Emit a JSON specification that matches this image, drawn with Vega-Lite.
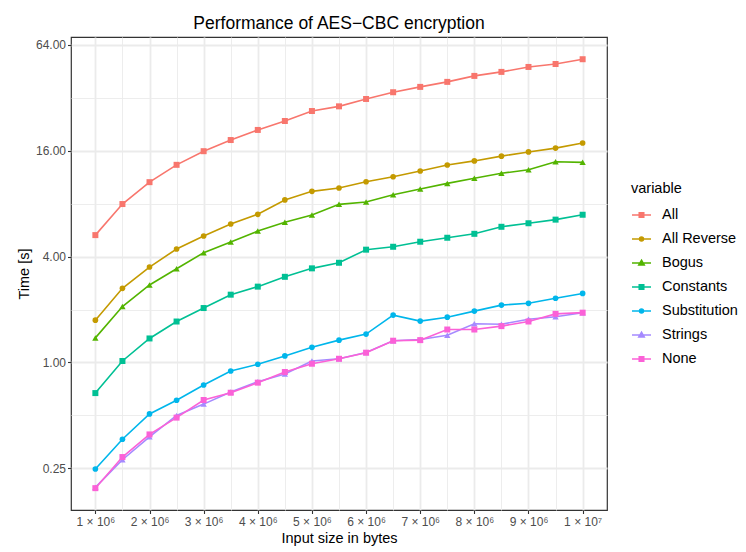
{
  "$schema": "https://vega.github.io/schema/vega-lite/v6.json",
  "width": 536,
  "height": 473,
  "autosize": {"type": "none"},
  "padding": {"left": 71, "top": 37, "right": 139, "bottom": 42},
  "background": "white",
  "title": {"text": "Performance of AES−CBC encryption", "anchor": "middle", "frame": "group", "font": "Liberation Sans", "fontSize": 17.5, "fontWeight": "normal", "color": "black", "baseline": "alphabetic", "offset": -9},
  "config": {
    "view": {"stroke": "#333333", "strokeWidth": 1.2},
    "axis": {"labelFont": "Liberation Sans", "titleFont": "Liberation Sans", "labelFontSize": 12, "labelColor": "#4D4D4D", "titleFontSize": 14.5, "titleFontWeight": "normal", "titleColor": "black", "tickColor": "#333333", "tickSize": 3.5, "tickWidth": 1.1, "domain": false, "gridColor": "#EBEBEB", "labelOverlap": false, "labelFlush": false},
    "legend": {"titleFont": "Liberation Sans", "titleFontSize": 14.5, "titleFontWeight": "normal", "titleColor": "black", "labelFont": "Liberation Sans", "labelFontSize": 14.5, "labelColor": "black", "symbolSize": 361, "rowPadding": 7, "labelOffset": 10, "titlePadding": 8}
  },
  "data": {"values": [
    {"x":1000000,"variable":"All","time":5.3},{"x":1500000,"variable":"All","time":7.96},{"x":2000000,"variable":"All","time":10.6},{"x":2500000,"variable":"All","time":13.3},{"x":3000000,"variable":"All","time":15.9},{"x":3500000,"variable":"All","time":18.4},{"x":4000000,"variable":"All","time":21.0},{"x":4500000,"variable":"All","time":23.6},{"x":5000000,"variable":"All","time":26.9},{"x":5500000,"variable":"All","time":28.6},{"x":6000000,"variable":"All","time":31.5},{"x":6500000,"variable":"All","time":34.4},{"x":7000000,"variable":"All","time":36.9},{"x":7500000,"variable":"All","time":39.4},{"x":8000000,"variable":"All","time":42.6},{"x":8500000,"variable":"All","time":44.9},{"x":9000000,"variable":"All","time":47.9},{"x":9500000,"variable":"All","time":49.8},{"x":10000000,"variable":"All","time":53.0},
    {"x":1000000,"variable":"All Reverse","time":1.74},{"x":1500000,"variable":"All Reverse","time":2.64},{"x":2000000,"variable":"All Reverse","time":3.49},{"x":2500000,"variable":"All Reverse","time":4.42},{"x":3000000,"variable":"All Reverse","time":5.24},{"x":3500000,"variable":"All Reverse","time":6.13},{"x":4000000,"variable":"All Reverse","time":6.96},{"x":4500000,"variable":"All Reverse","time":8.4},{"x":5000000,"variable":"All Reverse","time":9.4},{"x":5500000,"variable":"All Reverse","time":9.82},{"x":6000000,"variable":"All Reverse","time":10.66},{"x":6500000,"variable":"All Reverse","time":11.38},{"x":7000000,"variable":"All Reverse","time":12.27},{"x":7500000,"variable":"All Reverse","time":13.27},{"x":8000000,"variable":"All Reverse","time":14.0},{"x":8500000,"variable":"All Reverse","time":14.9},{"x":9000000,"variable":"All Reverse","time":15.75},{"x":9500000,"variable":"All Reverse","time":16.56},{"x":10000000,"variable":"All Reverse","time":17.7},
    {"x":1000000,"variable":"Bogus","time":1.38},{"x":1500000,"variable":"Bogus","time":2.08},{"x":2000000,"variable":"Bogus","time":2.76},{"x":2500000,"variable":"Bogus","time":3.41},{"x":3000000,"variable":"Bogus","time":4.21},{"x":3500000,"variable":"Bogus","time":4.84},{"x":4000000,"variable":"Bogus","time":5.59},{"x":4500000,"variable":"Bogus","time":6.27},{"x":5000000,"variable":"Bogus","time":6.9},{"x":5500000,"variable":"Bogus","time":7.93},{"x":6000000,"variable":"Bogus","time":8.17},{"x":6500000,"variable":"Bogus","time":9.0},{"x":7000000,"variable":"Bogus","time":9.7},{"x":7500000,"variable":"Bogus","time":10.43},{"x":8000000,"variable":"Bogus","time":11.15},{"x":8500000,"variable":"Bogus","time":11.9},{"x":9000000,"variable":"Bogus","time":12.48},{"x":9500000,"variable":"Bogus","time":13.85},{"x":10000000,"variable":"Bogus","time":13.74},
    {"x":1000000,"variable":"Constants","time":0.67},{"x":1500000,"variable":"Constants","time":1.02},{"x":2000000,"variable":"Constants","time":1.37},{"x":2500000,"variable":"Constants","time":1.71},{"x":3000000,"variable":"Constants","time":2.04},{"x":3500000,"variable":"Constants","time":2.43},{"x":4000000,"variable":"Constants","time":2.7},{"x":4500000,"variable":"Constants","time":3.07},{"x":5000000,"variable":"Constants","time":3.43},{"x":5500000,"variable":"Constants","time":3.69},{"x":6000000,"variable":"Constants","time":4.38},{"x":6500000,"variable":"Constants","time":4.55},{"x":7000000,"variable":"Constants","time":4.86},{"x":7500000,"variable":"Constants","time":5.12},{"x":8000000,"variable":"Constants","time":5.39},{"x":8500000,"variable":"Constants","time":5.91},{"x":9000000,"variable":"Constants","time":6.19},{"x":9500000,"variable":"Constants","time":6.49},{"x":10000000,"variable":"Constants","time":6.92},
    {"x":1000000,"variable":"Substitution","time":0.248},{"x":1500000,"variable":"Substitution","time":0.366},{"x":2000000,"variable":"Substitution","time":0.51},{"x":2500000,"variable":"Substitution","time":0.61},{"x":3000000,"variable":"Substitution","time":0.745},{"x":3500000,"variable":"Substitution","time":0.895},{"x":4000000,"variable":"Substitution","time":0.977},{"x":4500000,"variable":"Substitution","time":1.09},{"x":5000000,"variable":"Substitution","time":1.22},{"x":5500000,"variable":"Substitution","time":1.34},{"x":6000000,"variable":"Substitution","time":1.45},{"x":6500000,"variable":"Substitution","time":1.86},{"x":7000000,"variable":"Substitution","time":1.72},{"x":7500000,"variable":"Substitution","time":1.81},{"x":8000000,"variable":"Substitution","time":1.96},{"x":8500000,"variable":"Substitution","time":2.12},{"x":9000000,"variable":"Substitution","time":2.17},{"x":9500000,"variable":"Substitution","time":2.32},{"x":10000000,"variable":"Substitution","time":2.47},
    {"x":1000000,"variable":"Strings","time":0.195},{"x":1500000,"variable":"Strings","time":0.28},{"x":2000000,"variable":"Strings","time":0.378},{"x":2500000,"variable":"Strings","time":0.5},{"x":3000000,"variable":"Strings","time":0.58},{"x":3500000,"variable":"Strings","time":0.68},{"x":4000000,"variable":"Strings","time":0.778},{"x":4500000,"variable":"Strings","time":0.86},{"x":5000000,"variable":"Strings","time":1.02},{"x":5500000,"variable":"Strings","time":1.05},{"x":6000000,"variable":"Strings","time":1.14},{"x":6500000,"variable":"Strings","time":1.33},{"x":7000000,"variable":"Strings","time":1.35},{"x":7500000,"variable":"Strings","time":1.43},{"x":8000000,"variable":"Strings","time":1.66},{"x":8500000,"variable":"Strings","time":1.65},{"x":9000000,"variable":"Strings","time":1.76},{"x":9500000,"variable":"Strings","time":1.82},{"x":10000000,"variable":"Strings","time":1.92},
    {"x":1000000,"variable":"None","time":0.193},{"x":1500000,"variable":"None","time":0.29},{"x":2000000,"variable":"None","time":0.39},{"x":2500000,"variable":"None","time":0.486},{"x":3000000,"variable":"None","time":0.612},{"x":3500000,"variable":"None","time":0.673},{"x":4000000,"variable":"None","time":0.768},{"x":4500000,"variable":"None","time":0.883},{"x":5000000,"variable":"None","time":0.984},{"x":5500000,"variable":"None","time":1.05},{"x":6000000,"variable":"None","time":1.137},{"x":6500000,"variable":"None","time":1.33},{"x":7000000,"variable":"None","time":1.34},{"x":7500000,"variable":"None","time":1.54},{"x":8000000,"variable":"None","time":1.54},{"x":8500000,"variable":"None","time":1.61},{"x":9000000,"variable":"None","time":1.71},{"x":9500000,"variable":"None","time":1.89},{"x":10000000,"variable":"None","time":1.92}
  ]},
  "encoding": {
    "x": {"field": "x", "type": "quantitative", "title": "Input size in bytes",
      "scale": {"domain": [550000, 10450000], "nice": false, "zero": false},
      "axis": {"values": [1000000,1500000,2000000,2500000,3000000,3500000,4000000,4500000,5000000,5500000,6000000,6500000,7000000,7500000,8000000,8500000,9000000,9500000,10000000],
        "labelExpr": "datum.value % 1000000 !== 0 ? '' : (datum.value === 10000000 ? '1 × 10⁷' : (datum.value / 1000000) + ' × 10⁶')",
        "gridWidth": {"condition": {"test": "datum.value % 1000000 === 0", "value": 1.8}, "value": 0.9},
        "tickOpacity": {"condition": {"test": "datum.value % 1000000 === 0", "value": 1}, "value": 0},
        "labelPadding": 3, "titlePadding": 4}},
    "y": {"field": "time", "type": "quantitative", "title": "Time [s]",
      "scale": {"type": "log", "base": 2, "domain": [0.145, 70.9], "nice": false},
      "axis": {"values": [0.25, 0.5, 1, 2, 4, 8, 16, 32, 64],
        "labelExpr": "indexof([0.25, 1, 4, 16, 64], datum.value) >= 0 ? format(datum.value, '.2f') : ''",
        "gridWidth": {"condition": {"test": "indexof([0.25, 1, 4, 16, 64], datum.value) >= 0", "value": 1.8}, "value": 0.9},
        "tickOpacity": {"condition": {"test": "indexof([0.25, 1, 4, 16, 64], datum.value) >= 0", "value": 1}, "value": 0},
        "labelPadding": 2, "titlePadding": 4}},
    "color": {"field": "variable", "type": "nominal",
      "scale": {"domain": ["All", "All Reverse", "Bogus", "Constants", "Substitution", "Strings", "None"],
        "range": ["#F8766D", "#C49A00", "#53B400", "#00C094", "#00B6EB", "#A58AFF", "#FB61D7"]},
      "legend": {"title": "variable", "orient": "none", "legendX": 560, "legendY": 145,
        "encode": {"symbols": {"update": {
          "shape": {"signal": "indexof(['All', 'Constants', 'None'], datum.value) >= 0 ? 'M-1,0H1M-0.24,-0.24H0.24V0.24H-0.24Z' : (indexof(['All Reverse', 'Substitution'], datum.value) >= 0 ? 'M-1,0H1M0.21,0A0.21,0.21,0,1,1,-0.21,0A0.21,0.21,0,1,1,0.21,0Z' : 'M-1,0H1M0,-0.3L0.29,0.2L-0.29,0.2Z')"},
          "stroke": {"scale": "color", "field": "value"},
          "fill": {"scale": "color", "field": "value"},
          "strokeWidth": {"value": 1.5},
          "opacity": {"value": 1}}}}}}
  },
  "layer": [
    {"mark": {"type": "line", "strokeWidth": 1.6}},
    {"transform": [{"filter": {"field": "variable", "oneOf": ["All Reverse", "Substitution"]}}],
     "mark": {"type": "point", "shape": "circle", "filled": true, "opacity": 1, "size": 32}},
    {"transform": [{"filter": {"field": "variable", "oneOf": ["Bogus", "Strings"]}}],
     "mark": {"type": "point", "shape": "triangle-up", "filled": true, "opacity": 1, "size": 40}},
    {"transform": [{"filter": {"field": "variable", "oneOf": ["All", "Constants", "None"]}}],
     "mark": {"type": "point", "shape": "square", "filled": true, "opacity": 1, "size": 36}}
  ]
}
